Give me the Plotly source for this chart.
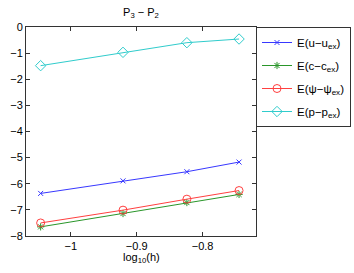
import plotly.graph_objects as go

log_h = [-1.0458, -0.9208, -0.8239, -0.7447]
err_u = [-6.37, -5.89, -5.54, -5.17]
err_c = [-7.65, -7.14, -6.72, -6.41]
err_psi = [-7.50, -7.01, -6.59, -6.26]
err_p = [-1.48, -0.97, -0.60, -0.46]

names = ["E(u−u<sub>ex</sub>)", "E(c−c<sub>ex</sub>)", "E(ψ−ψ<sub>ex</sub>)", "E(p−p<sub>ex</sub>)"]
colors = ["#3838ff", "#2a962a", "#ff4040", "#30cccc"]
symbols = ["x-thin-open", "asterisk-open", "circle-open", "diamond-open"]
sizes = [5, 6, 8, 8]

x_ticks = [-1.0, -0.9, -0.8]
x_ticktext = ["−1", "−0.9", "−0.8"]
y_ticks = [0, -1, -2, -3, -4, -5, -6, -7, -8]
y_ticktext = ["0", "−1", "−2", "−3", "−4", "−5", "−6", "−7", "−8"]

FONT = "Liberation Sans, Arial"

fig = go.Figure()
for i, (ys, n, c, s, sz) in enumerate(zip([err_u, err_c, err_psi, err_p], names, colors, symbols, sizes)):
    fig.add_trace(go.Scatter(
        x=log_h, y=ys, name=n, mode="lines+markers", legendgroup=f"g{i}",
        line=dict(color=c, width=1),
        marker=dict(symbol=s, size=sz, color=c, line=dict(color=c, width=1)),
    ))

axis_common = dict(
    showline=True, linecolor="#333333", linewidth=1, mirror="ticks",
    ticks="inside", ticklen=4, tickcolor="#333333", showgrid=False,
    zeroline=False, automargin=False,
    tickfont=dict(family=FONT, size=11, color="#000"),
)

fig.update_layout(
    width=354, height=273,
    margin=dict(l=26, r=98, t=27, b=37, autoexpand=False),
    paper_bgcolor="white", plot_bgcolor="white",
    title=dict(text="P<sub>3</sub> − P<sub>2</sub>", x=0.5, xref="paper", xanchor="center",
               y=1, yref="container", yanchor="top", pad=dict(t=8),
               font=dict(family=FONT, size=11, color="#000")),
    xaxis=dict(range=[-1.068, -0.719], tickvals=x_ticks, ticktext=x_ticktext, **axis_common),
    yaxis=dict(range=[-8, 0], tickvals=y_ticks, ticktext=y_ticktext, **axis_common),
    legend=dict(x=1.0, xanchor="left", y=1.0, yanchor="top",
                bordercolor="#333333", borderwidth=1, bgcolor="white",
                font=dict(family=FONT, size=11.5, color="#000"),
                itemwidth=30, tracegroupgap=4),
    showlegend=True,
    annotations=[dict(text="log<sub>10</sub>(h)", xref="paper", yref="paper", x=0.5, y=0,
                      xanchor="center", yanchor="top", yshift=-13, showarrow=False,
                      font=dict(family=FONT, size=11, color="#000"))],
)

fig.write_html("out.html", config={"displayModeBar": False},
               post_script="document.body.style.margin='0';")
